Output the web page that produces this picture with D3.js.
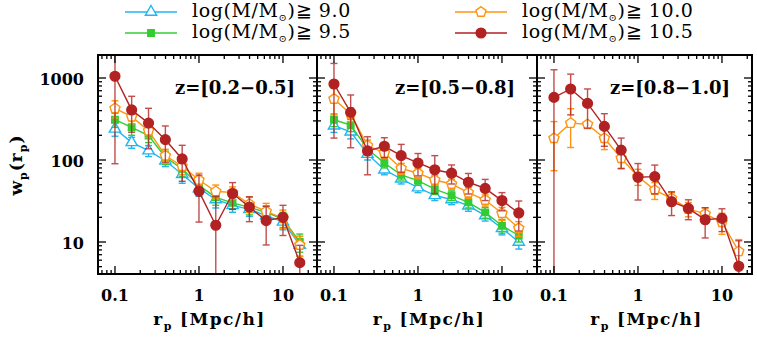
<!DOCTYPE html>
<html>
<head>
<meta charset="utf-8">
<script src="https://cdn.jsdelivr.net/npm/d3@7"></script>
<style>
  body { margin: 0; background: #fff; }
  svg { display: block; }
</style>
</head>
<body>
<script>
// projected separation bins, Mpc/h
const rBins = [0.1, 0.158, 0.251, 0.398, 0.631, 1.0, 1.585, 2.512, 3.981, 6.31, 10.0, 15.85]

const zLabels = ["z=[0.2\u22120.5]", "z=[0.5\u22120.8]", "z=[0.8\u22121.0]"]
const massCuts = ["9.0", "9.5", "10.0", "10.5"]
const massColors = ["#1fb6f2", "#33cc33", "#ff9410", "#b22222"]
const xTicks = [0.1, 1, 10]
const yTicks = [10, 100, 1000]

// z = 0.2-0.5
const wp_z1_m90  = [240, 164, 130, 98, 67, 45, 33, 28, 25, 21, 17.6, 9.2]
const err_z1_m90 = [45, 25, 20, 15, 15, 9, 7, 5, 4.5, 4, 3.5, 2.5]
const wp_z1_m95  = [310, 250, 198, 108, 78, 49, 35, 30, 26.4, 23, 19, 10]
const err_z1_m95 = [60, 50, 35, 20, 15, 10, 7, 5, 5, 4.5, 4, 2.5]
const wp_z1_m100  = [427, 338, 228, 113, 84, 57, 41.5, 40, 29, 23.6, 19.5, 9.2]
const err_z1_m100 = [100, 60, 40, 22, 18, 12, 8, 7, 6, 6, 5, 2.5]
const wp_z1_m105  = [1050, 408, 282, 177, 103, 41.5, 16, 39, 26.7, 18.2, 20, 5.6]
const err_z1_m105 = [960, 190, 145, 83, 48, 24, 20, 14, 9, 9, 8, 3.5]

// z = 0.5-0.8
const wp_z2_m90  = [262, 221, 118, 76, 59, 46, 37, 33, 27.7, 21, 14.7, 10]
const err_z2_m90 = [45, 40, 18, 10, 8, 6, 5, 4.5, 4, 3, 2.5, 1.8]
const wp_z2_m95  = [310, 267, 136, 92, 66, 56, 44, 37, 30.5, 23, 15.8, 12]
const err_z2_m95 = [55, 45, 20, 12, 9, 7, 6, 5, 4.5, 3.5, 3, 2]
const wp_z2_m100  = [555, 364, 150, 122, 79, 69, 57, 51, 40, 32.5, 22.4, 14.7]
const err_z2_m100 = [200, 70, 25, 18, 12, 10, 8, 7, 6, 5, 4, 3]
const wp_z2_m105  = [845, 381, 129, 147, 113, 92, 76, 69, 53.5, 45, 32, 22.6]
const err_z2_m105 = [660, 240, 63, 40, 42, 28, 37, 18, 15, 13, 8, 9]

// z = 0.8-1.0 (only the two massive samples)
const wp_z3_m100  = [184, 282, 272, 184, 105, 63, 43, 34, 25.3, 22, 17.4, 7.7]
const err_z3_m100 = [110, 140, 20, 50, 27, 14, 10, 6, 5, 4, 5, 3]
const wp_z3_m105  = [580, 735, 490, 257, 132, 61.5, 62.7, 31, 25.7, 18.7, 19.4, 5.05]
const err_z3_m105 = [680, 380, 245, 110, 53, 29, 24, 10, 7, 7.5, 6, 5.3]

const panels = [
    [[wp_z1_m90, err_z1_m90], [wp_z1_m95, err_z1_m95], [wp_z1_m100, err_z1_m100], [wp_z1_m105, err_z1_m105]],
    [[wp_z2_m90, err_z2_m90], [wp_z2_m95, err_z2_m95], [wp_z2_m100, err_z2_m100], [wp_z2_m105, err_z2_m105]],
    [null, null, [wp_z3_m100, err_z3_m100], [wp_z3_m105, err_z3_m105]]
]

let W = 757, H = 337
let yTop = 55, yBot = 274
let lefts = [98, 317, 537]
let widths = [219, 220, 215]
let pxPerDecade = 84
let xMin = 0.0628

let svg = d3.select("body").append("svg")
            .attr("width", W)
            .attr("height", H)

let y = d3.scaleLog().domain([4.07, 1908]).range([yBot, yTop])

let serif = "'DejaVu Serif', serif"

// marker shapes
const shapes = [d3.symbolTriangle, d3.symbolSquare, null, d3.symbolCircle]
const sizes = [55, 42, 0, 75]

function pentagon(r) {
    let pts = d3.range(5).map(k => {
        let a = -Math.PI / 2 + k * 2 * Math.PI / 5
        return [r * Math.cos(a), r * Math.sin(a)]
    })
    return "M" + pts.join("L") + "Z"
}

function markerPath(s) {
    if (s == 2) return pentagon(5.3)
    return d3.symbol().type(shapes[s]).size(sizes[s])()
}

function drawMarker(g, s, cx, cy) {
    let open = (s == 0 || s == 2)
    g.append("path")
        .attr("d", markerPath(s))
        .attr("transform", "translate(" + cx + "," + cy + ")")
        .attr("fill", open ? "#fff" : massColors[s])
        .attr("stroke", massColors[s])
        .attr("stroke-width", 1.4)
}

let minorX = []
for (let e = -2; e <= 1; e++)
    for (let m = 1; m <= 9; m++) minorX.push(m * Math.pow(10, e))
let minorY = []
for (let e = 0; e <= 3; e++)
    for (let m = 1; m <= 9; m++) minorY.push(m * Math.pow(10, e))

panels.forEach((series, p) => {
    let x0 = lefts[p], w = widths[p]
    let xMax = xMin * Math.pow(10, w / pxPerDecade)
    let x = d3.scaleLog().domain([xMin, xMax]).range([x0, x0 + w])

    let g = svg.append("g")

    svg.append("clipPath").attr("id", "clip" + p)
        .append("rect")
        .attr("x", x0).attr("y", yTop)
        .attr("width", w).attr("height", yBot - yTop)

    let plot = g.append("g").attr("clip-path", "url(#clip" + p + ")")

    series.forEach((sr, s) => {
        if (!sr) return
        let vals = sr[0], errs = sr[1]
        let col = massColors[s]
        let pts = rBins.map((r, i) => ({ r: r, v: vals[i], e: errs[i] }))

        // error bars
        let eb = plot.append("g")
                    .attr("stroke", col)
                    .attr("stroke-width", 1.4)
                    .attr("opacity", s == 3 ? 0.8 : 1)
        pts.forEach(d => {
            let lo = d.v - d.e
            let yLo = lo > 0 ? y(lo) : yBot + 5
            let yHi = y(d.v + d.e)
            let cx = x(d.r)
            eb.append("line").attr("x1", cx).attr("x2", cx).attr("y1", yLo).attr("y2", yHi)
            eb.append("line").attr("x1", cx - 3.5).attr("x2", cx + 3.5).attr("y1", yHi).attr("y2", yHi)
            if (lo > 0)
                eb.append("line").attr("x1", cx - 3.5).attr("x2", cx + 3.5).attr("y1", yLo).attr("y2", yLo)
        })

        plot.append("path")
            .datum(pts)
            .attr("fill", "none")
            .attr("stroke", col)
            .attr("stroke-width", 1.4)
            .attr("d", d3.line().x(d => x(d.r)).y(d => y(d.v)))

        pts.forEach(d => drawMarker(plot, s, x(d.r), y(d.v)))
    })

    // ticks, inward on all four sides
    let tk = g.append("g").attr("stroke", "#000").attr("stroke-width", 1.3)
    minorX.forEach(v => {
        if (v < xMin || v > xMax) return
        let major = xTicks.includes(v)
        let len = major ? 8 : 4
        let cx = x(v)
        tk.append("line").attr("x1", cx).attr("x2", cx).attr("y1", yBot).attr("y2", yBot - len)
        tk.append("line").attr("x1", cx).attr("x2", cx).attr("y1", yTop).attr("y2", yTop + len)
    })
    minorY.forEach(v => {
        if (v < y.domain()[0] || v > y.domain()[1]) return
        let major = yTicks.includes(v)
        let len = major ? 8 : 4
        let cy = y(v)
        tk.append("line").attr("x1", x0).attr("x2", x0 + len).attr("y1", cy).attr("y2", cy)
        tk.append("line").attr("x1", x0 + w).attr("x2", x0 + w - len).attr("y1", cy).attr("y2", cy)
    })

    g.append("rect")
        .attr("x", x0).attr("y", yTop)
        .attr("width", w).attr("height", yBot - yTop)
        .attr("fill", "none")
        .attr("stroke", "#000")
        .attr("stroke-width", 2)

    g.selectAll(".xl")
        .data(xTicks)
        .enter()
        .append("text")
        .attr("x", d => x(d))
        .attr("y", 301)
        .attr("text-anchor", "middle")
        .attr("font-family", serif)
        .attr("font-weight", "bold")
        .attr("font-size", 16)
        .text(d => d)

    let xt = g.append("text")
        .attr("x", x0 + w / 2 + 2)
        .attr("y", 325)
        .attr("text-anchor", "middle")
        .attr("font-family", serif)
        .attr("font-weight", "bold")
        .attr("font-size", 17)
        .attr("letter-spacing", 1.4)
    xt.append("tspan").text("r")
    xt.append("tspan").attr("font-size", 11).attr("dy", 5).text("p")
    xt.append("tspan").attr("dy", -5).text(" [Mpc/h]")

    g.append("text")
        .attr("x", x0 + w - 22)
        .attr("y", 94)
        .attr("text-anchor", "end")
        .attr("font-family", serif)
        .attr("font-weight", "bold")
        .attr("font-size", 18)
        .text(zLabels[p])
})

// y tick labels on the first panel
svg.selectAll(".yl")
    .data(yTicks)
    .enter()
    .append("text")
    .attr("x", 84)
    .attr("y", d => y(d) + 7)
    .attr("text-anchor", "end")
    .attr("font-family", serif)
    .attr("font-weight", "bold")
    .attr("font-size", 16)
    .text(d => d)

let yt = svg.append("text")
    .attr("transform", "translate(22,165) rotate(-90)")
    .attr("text-anchor", "middle")
    .attr("font-family", serif)
    .attr("font-weight", "bold")
    .attr("font-size", 17)
    .attr("letter-spacing", 1)
yt.append("tspan").text("w")
yt.append("tspan").attr("font-size", 11).attr("dy", 5).text("p")
yt.append("tspan").attr("dy", -5).text("(r")
yt.append("tspan").attr("font-size", 11).attr("dy", 5).text("p")
yt.append("tspan").attr("dy", -5).text(")")

// legend, two columns
let legX = [125, 455]
let legY = [12, 33]
massCuts.forEach((m, s) => {
    let lx = legX[s >> 1], ly = legY[s % 2]
    let lg = svg.append("g")
    lg.append("line")
        .attr("x1", lx).attr("x2", lx + 52)
        .attr("y1", ly).attr("y2", ly)
        .attr("stroke", massColors[s])
        .attr("stroke-width", 1.4)
    drawMarker(lg, s, lx + 26, ly)
    let t = lg.append("text")
        .attr("x", lx + 67)
        .attr("y", ly + 5)
        .attr("font-family", serif)
        .attr("font-size", 19)
        .attr("letter-spacing", 0.6)
    t.append("tspan").text("log(M/M")
    t.append("tspan").attr("font-size", 10).attr("dy", 4).text("\u2299")
    t.append("tspan").attr("dy", -4).text(")\u2267 " + m)
})
</script>
</body>
</html>
